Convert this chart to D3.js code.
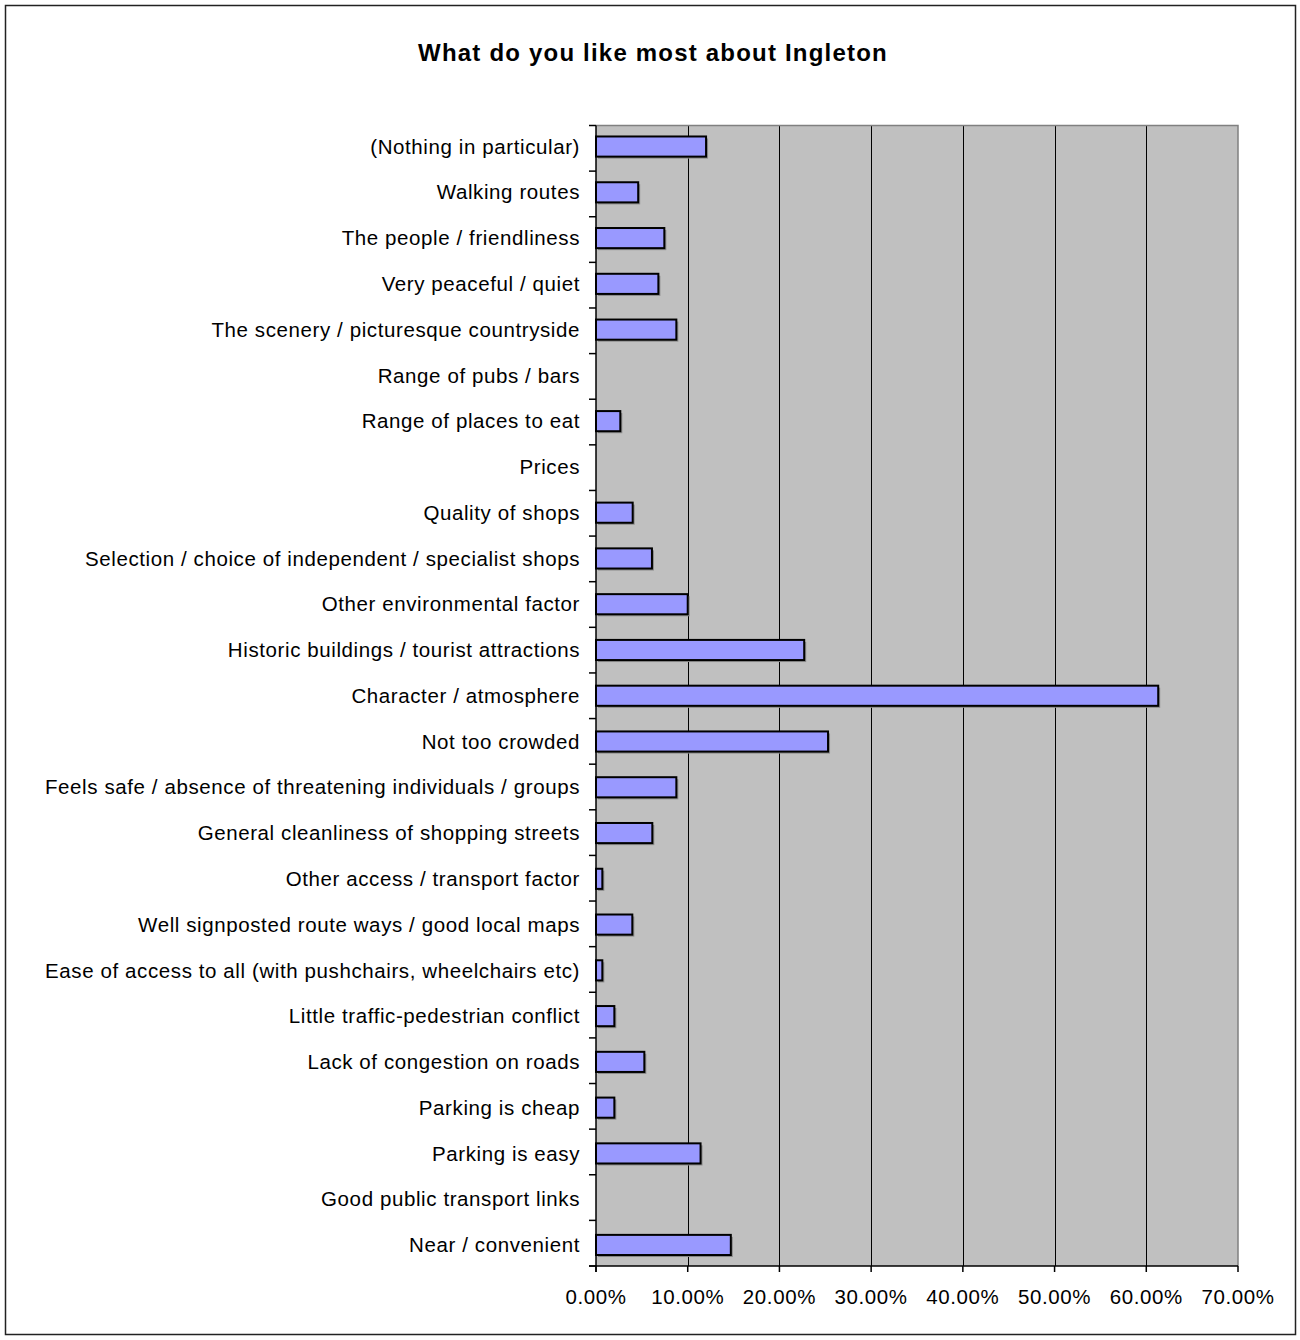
<!DOCTYPE html>
<html><head><meta charset="utf-8">
<script src="https://cdn.jsdelivr.net/npm/d3@7"></script>
<style>body{margin:0;background:#fff}svg{display:block}text{font-family:"Liberation Sans",Arial,sans-serif}</style>
</head><body>
<svg id="c" width="1300" height="1340"></svg>
<script>
const categories = [
  "(Nothing in particular)",
  "Walking routes",
  "The people / friendliness",
  "Very peaceful / quiet",
  "The scenery / picturesque countryside",
  "Range of pubs / bars",
  "Range of places to eat",
  "Prices",
  "Quality of shops",
  "Selection / choice of independent / specialist shops",
  "Other environmental factor",
  "Historic buildings / tourist attractions",
  "Character / atmosphere",
  "Not too crowded",
  "Feels safe / absence of threatening individuals / groups",
  "General cleanliness of shopping streets",
  "Other access / transport factor",
  "Well signposted route ways / good local maps",
  "Ease of access to all (with pushchairs, wheelchairs etc)",
  "Little traffic-pedestrian conflict",
  "Lack of congestion on roads",
  "Parking is cheap",
  "Parking is easy",
  "Good public transport links",
  "Near / convenient"
];
const values = [0.120,0.046,0.0745,0.068,0.0876,0,0.0265,0,0.040,0.061,0.100,0.227,0.613,0.253,0.0876,0.0614,0.0069,0.0396,0.0069,0.020,0.0527,0.020,0.114,0,0.147];
const xTicks = [0,0.1,0.2,0.3,0.4,0.5,0.6,0.7];
const title = "What do you like most about Ingleton";

const svg = d3.select("#c");
const L = 596, R = 1238, T = 125.5, B = 1266;

svg.append("rect").attr("x",5.5).attr("y",5.5).attr("width",1290).attr("height",1329)
  .attr("fill","#fff").attr("stroke","#222").attr("stroke-width",1.5);

svg.append("text").attr("x",653).attr("y",61).attr("text-anchor","middle")
  .attr("font-size",24).attr("font-weight","bold").attr("letter-spacing",1.2).text(title);

const x = d3.scaleLinear().domain([0,0.7]).range([L,R]);
const y = d3.scaleBand().domain(categories).range([T,B]).paddingInner(0.56).paddingOuter(0.24);

svg.append("rect").attr("x",L).attr("y",T).attr("width",R-L).attr("height",B-T).attr("fill","#C0C0C0");

// gridlines
svg.append("g").selectAll("line").data(xTicks.slice(1,-1)).join("line")
  .attr("x1",d=>Math.round(x(d))+0.5).attr("x2",d=>Math.round(x(d))+0.5)
  .attr("y1",T).attr("y2",B).attr("stroke","#000").attr("stroke-width",1);

// plot border top/right
svg.append("path").attr("d",`M${L},${T}H${R}V${B}`).attr("fill","none").attr("stroke","#808080").attr("stroke-width",1.5);

const barData = values.map((v,i)=>({v,c:categories[i]})).filter(d=>d.v>0);
// bar shadows
svg.append("g").selectAll("rect").data(barData).join("rect")
  .attr("x",L+2).attr("y",d=>y(d.c)+2).attr("width",d=>x(d.v)-L).attr("height",y.bandwidth())
  .attr("fill","#8a8a8a");
// bars
svg.append("g").selectAll("rect").data(barData).join("rect")
  .attr("x",L).attr("y",d=>y(d.c)).attr("width",d=>x(d.v)-L).attr("height",y.bandwidth())
  .attr("fill","#9999FF").attr("stroke","#000").attr("stroke-width",2);

// y axis
const yb = d3.range(categories.length+1).map(i=>T + i*(B-T)/categories.length);
const gy = svg.append("g");
gy.append("line").attr("x1",L).attr("x2",L).attr("y1",T).attr("y2",B+6).attr("stroke","#000").attr("stroke-width",1.5);
gy.selectAll("line.t").data(yb).join("line").attr("class","t")
  .attr("x1",L-7).attr("x2",L).attr("y1",d=>d).attr("y2",d=>d).attr("stroke","#000").attr("stroke-width",1.5);
gy.selectAll("text").data(categories).join("text")
  .attr("x",580).attr("y",d=>y(d)+y.bandwidth()/2).attr("dy","0.35em")
  .attr("text-anchor","end").attr("font-size",20.5).attr("letter-spacing",0.6).text(d=>d);

// x axis
const gx = svg.append("g").attr("transform",`translate(0,${B})`);
gx.append("line").attr("x1",L-7).attr("x2",R).attr("y1",0).attr("y2",0).attr("stroke","#000").attr("stroke-width",1.5);
gx.selectAll("line.t").data(xTicks).join("line").attr("class","t")
  .attr("x1",d=>x(d)).attr("x2",d=>x(d)).attr("y1",0).attr("y2",6).attr("stroke","#000").attr("stroke-width",1.5);
gx.selectAll("text").data(xTicks).join("text")
  .attr("x",d=>x(d)).attr("y",38).attr("text-anchor","middle").attr("font-size",20.5).attr("letter-spacing",0.6)
  .text(d=>d3.format(".2%")(d));
</script>
</body></html>
